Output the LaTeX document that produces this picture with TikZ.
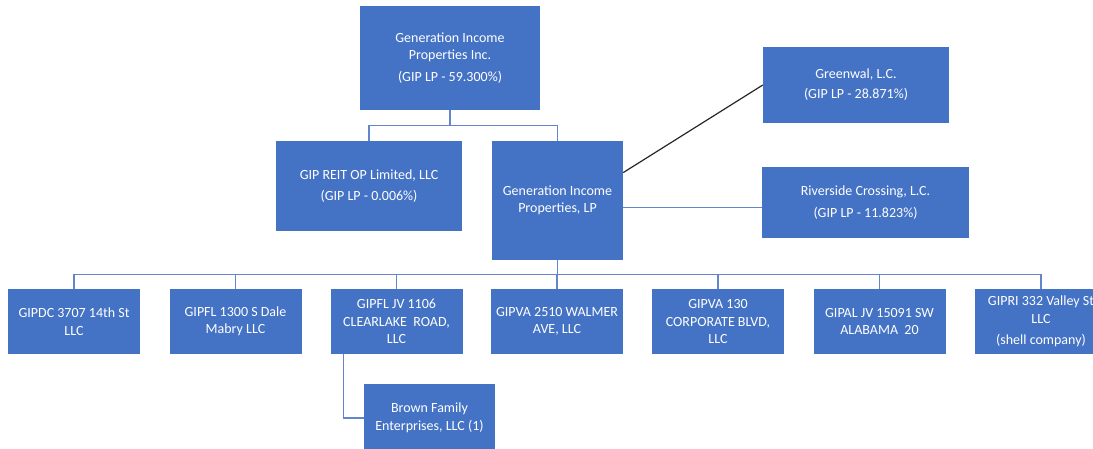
\documentclass[tikz,border=0pt]{standalone}
\usepackage{fontspec}
\setmainfont{Carlito}
\definecolor{boxblue}{RGB}{68,114,196}
\definecolor{linkblue}{RGB}{98,133,204}
\begin{document}
\begin{tikzpicture}[
        x=1pt, y=-1pt,
        box/.style 2 args={fill=boxblue, text=white, align=center, inner sep=2pt,
            minimum width=#1, minimum height=#2, font=\fontsize{14}{17.5}\selectfont},
        link/.style={draw=linkblue, line width=1.2pt},
        tie/.style={draw=black!85, line width=1.2pt},
    ]
    \useasboundingbox (0,0) rectangle (1093,448);
    \clip (0,0) rectangle (1093,448);
    % owners
    \node[box={180pt}{104pt}](inc) at (450,58) {Generation Income\\Properties Inc.\\[4pt](GIP LP - 59.300\%)};
    \node[box={186pt}{90pt}](reit) at (369,186) {GIP REIT OP Limited, LLC\\[4pt](GIP LP - 0.006\%)};
    \node[box={131pt}{119pt}](lp) at (557.5,200.5) {Generation Income\\Properties, LP};
    \node[box={186pt}{76pt}](green) at (856,85) {Greenwal, L.C.\\[2.5pt](GIP LP - 28.871\%)};
    \node[box={207pt}{71pt}](river) at (865.5,202.5) {Riverside Crossing, L.C.\\[4pt](GIP LP - 11.823\%)};
    % properties
    \node[box={132pt}{65pt}](b1) at (74,321.5) {GIPDC 3707 14th St\\LLC};
    \node[box={132pt}{65pt}](b2) at (235.5,321.5) {GIPFL 1300 S Dale\\Mabry LLC};
    \node[box={132pt}{65pt}](b3) at (396.5,321.5) {GIPFL JV 1106\\CLEARLAKE\ \ ROAD,\\LLC};
    \node[box={132pt}{65pt}](b4) at (557,321.5) {GIPVA 2510 WALMER\\AVE, LLC};
    \node[box={132pt}{65pt}](b5) at (718,321.5) {GIPVA 130\\CORPORATE BLVD,\\LLC};
    \node[box={132pt}{65pt}](b6) at (879.5,321.5) {GIPAL JV 15091 SW\\ALABAMA\ \ 20};
    \node[box={132pt}{65pt}](b7) at (1041,321.5) {GIPRI 332 Valley St\\LLC\\[4pt](shell company)};
    \node[box={131pt}{68pt}](brown) at (429.5,418) {Brown Family\\Enterprises, LLC (1)};
    % connectors
    \draw[link] (inc.south) -- ++(0,15) -| (reit.north);
    \draw[link] (inc.south) -- ++(0,15) -| (lp.north);
    \foreach \i in {1,...,7}
        \draw[link] (lp.south) -- ++(0,14) -| (b\i.north);
    \draw[tie] (lp.23) -- (green.west);
    \path ([yshift=-5pt]river.west) coordinate (rv);
    \draw[link] (rv) -- (rv -| lp.east);
    \draw[link] ([xshift=13pt]b3.south west) |- (brown.west);
\end{tikzpicture}
\end{document}
